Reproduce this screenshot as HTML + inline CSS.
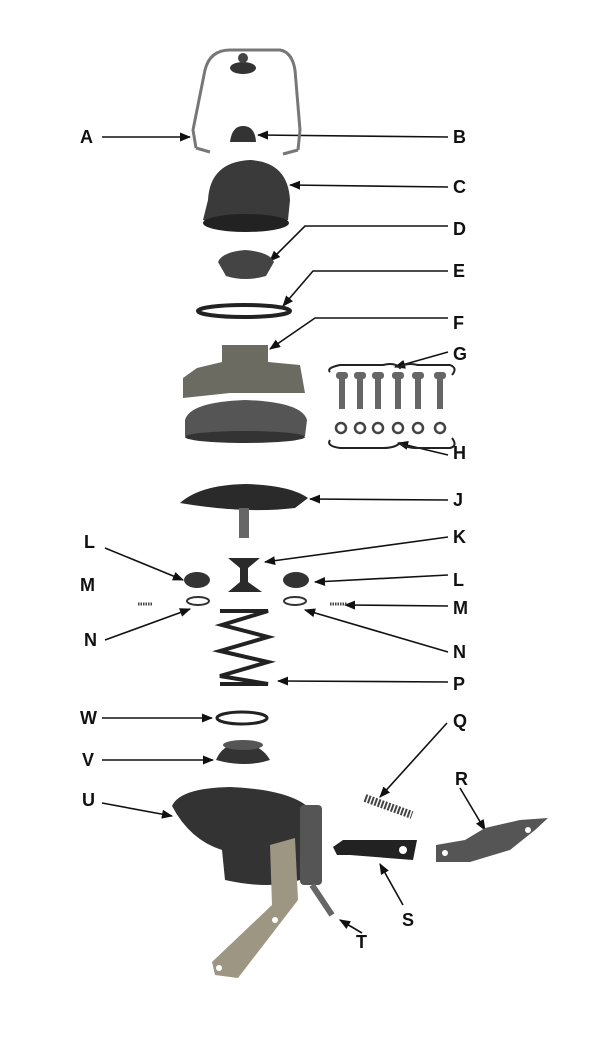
<!DOCTYPE html>
<html><head><meta charset="utf-8"><style>
html,body{margin:0;padding:0;background:#fff;}
svg{display:block}
text{font-family:"Liberation Sans",sans-serif;font-weight:bold;font-size:18px;fill:#111}
</style></head><body>
<svg width="600" height="1040" viewBox="0 0 600 1040" xmlns="http://www.w3.org/2000/svg">
<defs>
<marker id="ar" viewBox="0 0 10 10" refX="9" refY="5" markerWidth="7" markerHeight="7" orient="auto-start-reverse">
<path d="M0,1 L10,5 L0,9 z" fill="#111"/></marker>
</defs>
<rect width="600" height="1040" fill="#fff"/>
<g stroke="#111" stroke-width="1.6" fill="none" marker-end="url(#ar)">
<line x1="102" y1="137" x2="190" y2="137"/>
<line x1="448" y1="137" x2="258" y2="135"/>
<line x1="448" y1="187" x2="290" y2="185"/>
<polyline points="448,226 305,226 270,261"/>
<polyline points="448,271 313,271 283,306"/>
<polyline points="448,318 315,318 270,349"/>
<line x1="448" y1="352" x2="395" y2="367"/>
<line x1="448" y1="455" x2="398" y2="443"/>
<line x1="448" y1="500" x2="310" y2="499"/>
<line x1="448" y1="537" x2="265" y2="562"/>
<line x1="105" y1="548" x2="183" y2="580"/>
<line x1="448" y1="575" x2="315" y2="582"/>
<line x1="448" y1="606" x2="345" y2="605"/>
<line x1="105" y1="640" x2="190" y2="609"/>
<line x1="448" y1="652" x2="305" y2="610"/>
<line x1="448" y1="682" x2="278" y2="681"/>
<line x1="102" y1="718" x2="212" y2="718"/>
<line x1="102" y1="760" x2="213" y2="760"/>
<line x1="447" y1="723" x2="380" y2="797"/>
<line x1="460" y1="788" x2="485" y2="830"/>
<line x1="403" y1="905" x2="380" y2="864"/>
<line x1="362" y1="933" x2="340" y2="920"/>
<line x1="102" y1="803" x2="172" y2="816"/>
</g>
<g>
<text x="80" y="143">A</text><text x="453" y="143">B</text><text x="453" y="193">C</text>
<text x="453" y="235">D</text><text x="453" y="277">E</text><text x="453" y="329">F</text>
<text x="453" y="360">G</text><text x="453" y="459">H</text><text x="453" y="506">J</text>
<text x="453" y="543">K</text><text x="84" y="548">L</text><text x="453" y="586">L</text>
<text x="80" y="591">M</text><text x="453" y="614">M</text><text x="84" y="646">N</text>
<text x="453" y="658">N</text><text x="453" y="690">P</text><text x="80" y="724">W</text>
<text x="82" y="766">V</text><text x="453" y="727">Q</text><text x="455" y="785">R</text>
<text x="402" y="926">S</text><text x="356" y="948">T</text><text x="82" y="806">U</text>
</g>
<!-- bail -->
<path d="M196,148 L193,130 L205,70 Q210,50 230,50 L280,50 Q292,52 295,70 L300,130 L298,150 M196,148 L210,152 M298,150 L283,154" stroke="#777" stroke-width="3" fill="none"/>
<ellipse cx="243" cy="68" rx="13" ry="6" fill="#333"/><circle cx="243" cy="58" r="5" fill="#444"/>
<!-- B -->
<path d="M230,142 Q232,126 243,126 Q255,126 256,142 Z" fill="#333"/>
<!-- C -->
<path d="M208,200 Q210,162 250,160 Q288,162 290,200 L288,220 Q250,236 203,220 Z" fill="#3a3a3a"/>
<ellipse cx="246" cy="223" rx="43" ry="9" fill="#222"/>
<!-- D -->
<path d="M218,262 Q222,252 245,250 Q270,252 274,262 L266,276 Q245,282 226,276 Z" fill="#444"/>
<!-- E -->
<ellipse cx="244" cy="311" rx="46" ry="6" fill="none" stroke="#222" stroke-width="4"/>
<!-- F -->
<path d="M222,345 L268,345 L268,362 L300,365 L305,393 L230,393 L183,398 L183,378 L197,368 L222,362 Z" fill="#6b6b62"/>
<path d="M185,420 Q190,402 245,400 Q302,402 307,420 L305,436 Q245,446 185,436 Z" fill="#555"/>
<ellipse cx="245" cy="437" rx="60" ry="6" fill="#333"/>
<!-- G screws / H washers -->
<g fill="#666">
<rect x="339" y="377" width="6" height="32"/><rect x="357" y="377" width="6" height="32"/><rect x="375" y="377" width="6" height="32"/>
<rect x="395" y="377" width="6" height="32"/><rect x="415" y="377" width="6" height="32"/><rect x="437" y="377" width="6" height="32"/>
<rect x="336" y="372" width="12" height="7" rx="3"/><rect x="354" y="372" width="12" height="7" rx="3"/><rect x="372" y="372" width="12" height="7" rx="3"/>
<rect x="392" y="372" width="12" height="7" rx="3"/><rect x="412" y="372" width="12" height="7" rx="3"/><rect x="434" y="372" width="12" height="7" rx="3"/>
</g>
<g fill="none" stroke="#444" stroke-width="2.5">
<circle cx="341" cy="428" r="5"/><circle cx="360" cy="428" r="5"/><circle cx="378" cy="428" r="5"/><circle cx="398" cy="428" r="5"/><circle cx="418" cy="428" r="5"/><circle cx="440" cy="428" r="5"/>
</g>
<path d="M330,372 Q326,368 340,365 L383,365 Q395,362 400,368 Q405,362 418,365 L450,365 Q458,368 452,375" stroke="#222" stroke-width="2" fill="none"/>
<path d="M330,440 Q326,446 340,448 L383,448 Q395,448 400,443 Q405,448 418,448 L450,448 Q458,446 452,438" stroke="#222" stroke-width="2" fill="none"/>
<!-- J -->
<path d="M180,503 Q200,485 245,484 Q290,485 308,498 L295,508 Q245,514 180,503 Z" fill="#2a2a2a"/>
<rect x="239" y="508" width="10" height="30" fill="#666"/>
<!-- K -->
<path d="M228,558 L260,558 L248,568 L248,582 L262,592 L228,592 L240,582 L240,568 Z" fill="#2a2a2a"/>
<!-- L -->
<ellipse cx="197" cy="580" rx="13" ry="8" fill="#333"/><ellipse cx="296" cy="580" rx="13" ry="8" fill="#333"/>
<!-- N -->
<ellipse cx="198" cy="601" rx="11" ry="4" fill="none" stroke="#333" stroke-width="2"/>
<ellipse cx="295" cy="601" rx="11" ry="4" fill="none" stroke="#333" stroke-width="2"/>
<!-- M -->
<line x1="138" y1="604" x2="152" y2="604" stroke="#444" stroke-width="3" stroke-dasharray="1.5 1"/>
<line x1="330" y1="604" x2="347" y2="604" stroke="#444" stroke-width="3" stroke-dasharray="1.5 1"/>
<!-- P spring -->
<path d="M220,611 L268,611 L222,625 L268,637 L220,651 L268,662 L220,676 L268,684 L220,684" stroke="#222" stroke-width="4" fill="none"/>
<!-- W -->
<ellipse cx="242" cy="718" rx="25" ry="6" fill="none" stroke="#222" stroke-width="3"/>
<!-- V -->
<path d="M216,760 Q222,745 240,742 Q262,745 270,760 Q245,768 216,760 Z" fill="#333"/>
<ellipse cx="243" cy="745" rx="20" ry="5" fill="#555"/>
<!-- U body -->
<path d="M172,806 Q180,788 230,787 Q300,790 315,815 L305,840 L300,880 Q270,890 225,880 L222,850 Q190,840 172,806 Z" fill="#333"/>
<rect x="300" y="805" width="22" height="80" rx="4" fill="#555"/>
<path d="M270,845 L295,838 L298,900 L238,978 L215,975 L212,962 L272,905 Z" fill="#9c9682"/>
<circle cx="219" cy="968" r="3" fill="#fff"/><circle cx="275" cy="920" r="3" fill="#fff"/>
<line x1="312" y1="885" x2="332" y2="915" stroke="#666" stroke-width="6"/>
<!-- Q -->
<line x1="365" y1="798" x2="412" y2="815" stroke="#444" stroke-width="8" stroke-dasharray="2 1.5"/>
<!-- S -->
<path d="M333,847 L343,840 L417,840 L413,860 L350,855 L337,855 Z" fill="#222"/>
<circle cx="403" cy="850" r="4" fill="#fff"/>
<!-- R -->
<path d="M436,845 L465,840 L485,828 L520,820 L548,818 L535,830 L510,850 L470,862 L436,862 Z" fill="#555"/>
<circle cx="445" cy="853" r="3" fill="#fff"/><circle cx="528" cy="830" r="3" fill="#fff"/>
</svg>
</body></html>
